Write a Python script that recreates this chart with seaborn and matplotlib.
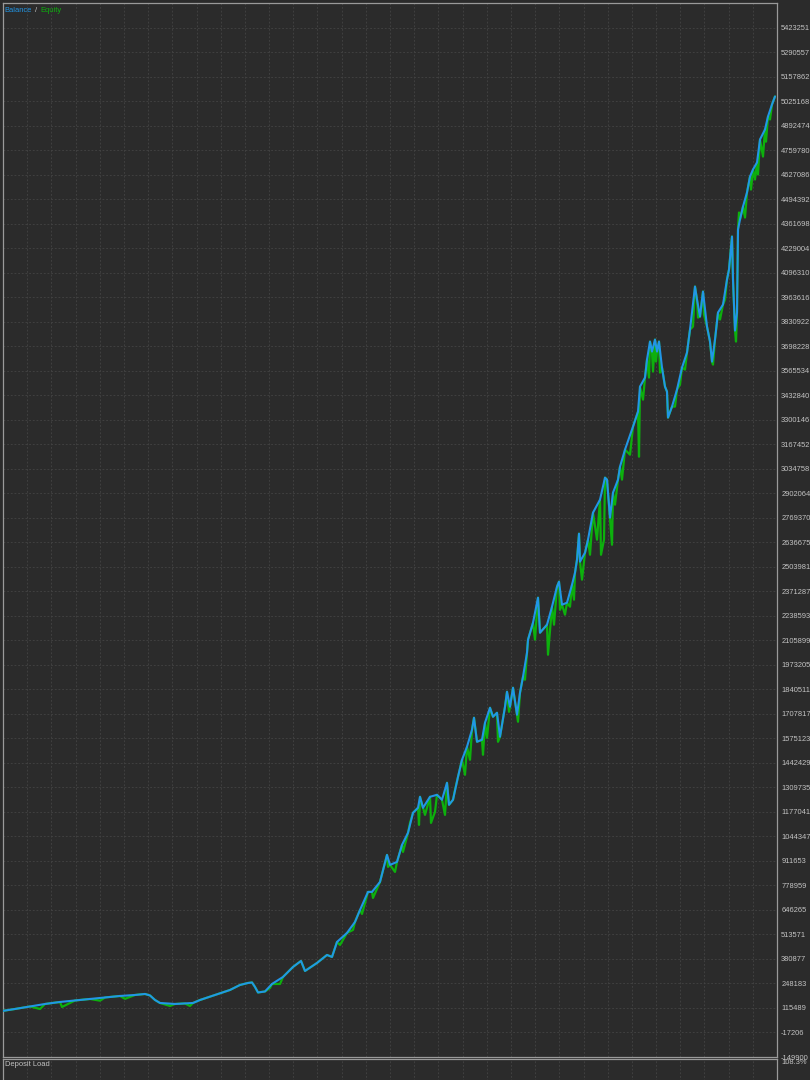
import numpy as np
import pandas as pd
import matplotlib
matplotlib.use("Agg")
import matplotlib.pyplot as plt
import seaborn as sns

# ---------------- data ----------------
deal_pos = [3, 15, 30, 45, 60, 75, 90, 105, 120, 135, 145, 150, 155, 160, 175, 185, 193, 200, 215, 230,
            240, 248, 252, 255, 258, 265, 272, 283, 293, 301, 305, 317, 327, 332, 337, 347, 355, 360, 368, 372,
            380, 387, 390, 397, 402, 408, 413, 418, 420, 423, 430, 437, 442, 447, 449, 453, 458, 462, 467, 472,
            474, 477, 482, 485, 490, 493, 497, 500, 505, 507, 510, 513, 517, 520, 523, 527, 528, 533, 538, 540,
            547, 552, 557, 559, 562, 567, 572, 575, 577, 579, 580, 585, 588, 593, 600, 605, 607, 608, 610, 613,
            618, 620, 625, 633, 638, 640, 645, 647, 650, 652, 655, 657, 659, 662, 665, 667, 668, 672, 677, 682,
            687, 690, 695, 697, 700, 703, 707, 710, 712, 715, 718, 723, 727, 729, 732, 733, 735, 737, 738, 740,
            743, 747, 750, 753, 757, 760, 765, 768, 772, 775]

balance = [100000, 110073, 123613, 137153, 147986, 156110, 164234, 172358, 180482, 185898, 191314, 183190,
           158718, 142569, 137153, 139861, 142569, 158718, 185898, 212979, 240059, 250891, 253599, 229227,
           199438, 204855, 245475, 283388, 337549, 370046, 315885, 359213, 402542, 391710, 472952, 521696,
           581274, 646267, 743757, 743757, 797918, 944152, 889991, 906240, 998313, 1063706, 1172028, 1199109,
           1258686, 1199109, 1258686, 1269518, 1242438, 1334511, 1215357, 1242438, 1367008, 1459082, 1529491,
           1621565, 1686558, 1556572, 1567404, 1659477, 1740719, 1691974, 1713638, 1583652, 1746135, 1827377,
           1746135, 1849041, 1702806, 1821960, 1908618, 2038604, 2109013, 2201087, 2336490, 2146926, 2190255,
           2287745, 2396067, 2423148, 2298577, 2309409, 2406899, 2471892, 2542302, 2683120, 2531470, 2580214,
           2650624, 2796858, 2867268, 2986422, 2975590, 2905180, 2769778, 2905180, 2975590, 3045999, 3138073,
           3262643, 3343885, 3479287, 3528032, 3625522, 3723012, 3668851, 3733844, 3668851, 3723012, 3582192,
           3479287, 3452207, 3311388, 3370965, 3463039, 3582192, 3663434, 3788005, 4020897, 3950488, 3858414,
           3993817, 3804253, 3723012, 3614690, 3733844, 3880078, 3923407, 4058810, 4112971, 4291702, 4058810,
           3782589, 3880078, 4329615, 4383776, 4454185, 4530010, 4616668, 4654581, 4692493, 4817064, 4871225,
           4941634, 5006627, 5049956]

# equity excursions away from balance (floating drawdowns / spikes)
equity_dip_pos = [40, 62, 100, 125, 170, 190, 270, 280, 340, 353, 362, 373, 388, 395, 403, 410, 419, 425,
                  431, 435, 445, 455, 465, 470, 483, 487, 498, 509, 518, 525, 535, 548, 554, 560, 565, 570,
                  574, 582, 590, 597, 601, 604, 612, 615, 622, 630, 639, 643, 649, 653, 656, 660, 675, 680,
                  685, 693, 698, 704, 713, 720, 725, 736, 739, 745, 751, 755, 758, 763, 766, 770]
equity_dip = [110073, 120905, 155000, 165000, 126321, 126321, 223815, 245475, 456703, 537945, 624602,
              711260, 879159, 852079, 960401, 1117467, 1106635, 1160796, 1117467, 1177044, 1160796,
              1296198, 1377840, 1459082, 1486162, 1577846, 1556572, 1718654, 1664894, 1892370, 2109013,
              2027772, 2190255, 2271097, 2244416, 2287745, 2325658, 2433980, 2568982, 2650624, 2568982,
              2650624, 2623143, 2840187, 2975590, 3110592, 3099760, 3408478, 3528032, 3560528, 3614690,
              3555112, 3370965, 3490119, 3571361, 3804253, 3852998, 3869246, 3598442, 3842166, 3950488,
              3723012, 4421688, 4394608, 4545899, 4600420, 4627500, 4724590, 4805332, 4925386]

y_tick_labels = ["5423251", "5290557", "5157862", "5025168", "4892474", "4759780", "4627086", "4494392",
                 "4361698", "4229004", "4096310", "3963616", "3830922", "3698228", "3565534", "3432840",
                 "3300146", "3167452", "3034758", "2902064", "2769370", "2636675", "2503981", "2371287",
                 "2238593", "2105899", "1973205", "1840511", "1707817", "1575123", "1442429", "1309735",
                 "1177041", "1044347", "911653", "778959", "646265", "513571", "380877", "248183",
                 "115489", "-17206", "-149900"]
deposit_load_label = "108.3%"

# ---------------- style ----------------
sns.set_theme(style="dark")
plt.rcParams["font.family"] = ["Liberation Sans", "DejaVu Sans"]

BG = "#2b2b2b"
FRAME = "#9a9a9a"
GRID = "#434343"
TXT = "#c4c4c4"
BLUE = "#2196e6"
GREEN = "#0db00d"

W, H = 810, 1080
fig = plt.figure(figsize=(W / 100, H / 100), dpi=100, facecolor=BG)

def px_rect(left, top, right, bottom):
    return [left / W, 1 - bottom / H, (right - left) / W, (bottom - top) / H]

ax = fig.add_axes(px_rect(3, 3, 777, 1057))
ax.set_facecolor(BG)

bal_df = pd.DataFrame({"deal": deal_pos, "value": balance})
eq_df = pd.concat([bal_df, pd.DataFrame({"deal": equity_dip_pos, "value": equity_dip})])
eq_df = eq_df.sort_values("deal", kind="stable").reset_index(drop=True)

sns.lineplot(data=eq_df, x="deal", y="value", ax=ax, color=GREEN, lw=1.6,
             estimator=None, sort=False, zorder=3)
sns.lineplot(data=bal_df, x="deal", y="value", ax=ax, color=BLUE, lw=1.5,
             estimator=None, sort=False, zorder=4)

y_ticks = [int(s) for s in y_tick_labels]
ax.set_ylim(-149900, 5555945)
ax.set_xlim(3, 777)
ax.set_xticks(np.linspace(3, 777, 33))
ax.tick_params(axis="x", length=0, labelbottom=False)
ax.yaxis.tick_right()
ax.set_yticks(y_ticks)
ax.set_yticklabels(y_tick_labels)
ax.tick_params(axis="y", length=0, pad=3, labelsize=5.4, labelcolor=TXT)
ax.set_xlabel("")
ax.set_ylabel("")
ax.grid(True, color=GRID, linestyle=(0, (2.2, 2.2)), lw=0.6)
for sp in ax.spines.values():
    sp.set_color(FRAME)
    sp.set_linewidth(0.9)
    sp.set_visible(True)

# legend-like title text
fig.text(4 / W, 1 - 10 / H, "Balance", color=BLUE, fontsize=5.4, va="center", ha="left")
fig.text(35 / W, 1 - 10 / H, "/", color=TXT, fontsize=5.4, va="center", ha="left")
fig.text(40 / W, 1 - 10 / H, "Equity", color=GREEN, fontsize=5.4, va="center", ha="left")

# deposit load panel
ax2 = fig.add_axes(px_rect(3, 1059, 777, 1120))
ax2.set_facecolor(BG)
ax2.set_xlim(3, 777)
ax2.set_ylim(0, 1)
ax2.set_xticks(np.linspace(3, 777, 33))
ax2.set_yticks([])
ax2.tick_params(axis="x", length=0, labelbottom=False)
ax2.grid(True, axis="x", color=GRID, linestyle=(0, (2.2, 2.2)), lw=0.6)
for sp in ax2.spines.values():
    sp.set_color(FRAME)
    sp.set_linewidth(0.9)
    sp.set_visible(True)
fig.text(5 / W, 1 - 1065 / H, "Deposit Load", color=TXT, fontsize=5.4, va="center", ha="left")
fig.text(781 / W, 1 - 1063 / H, deposit_load_label, color=TXT, fontsize=5.4, va="center", ha="left")

fig.savefig("out.png", dpi=100, facecolor=BG)
